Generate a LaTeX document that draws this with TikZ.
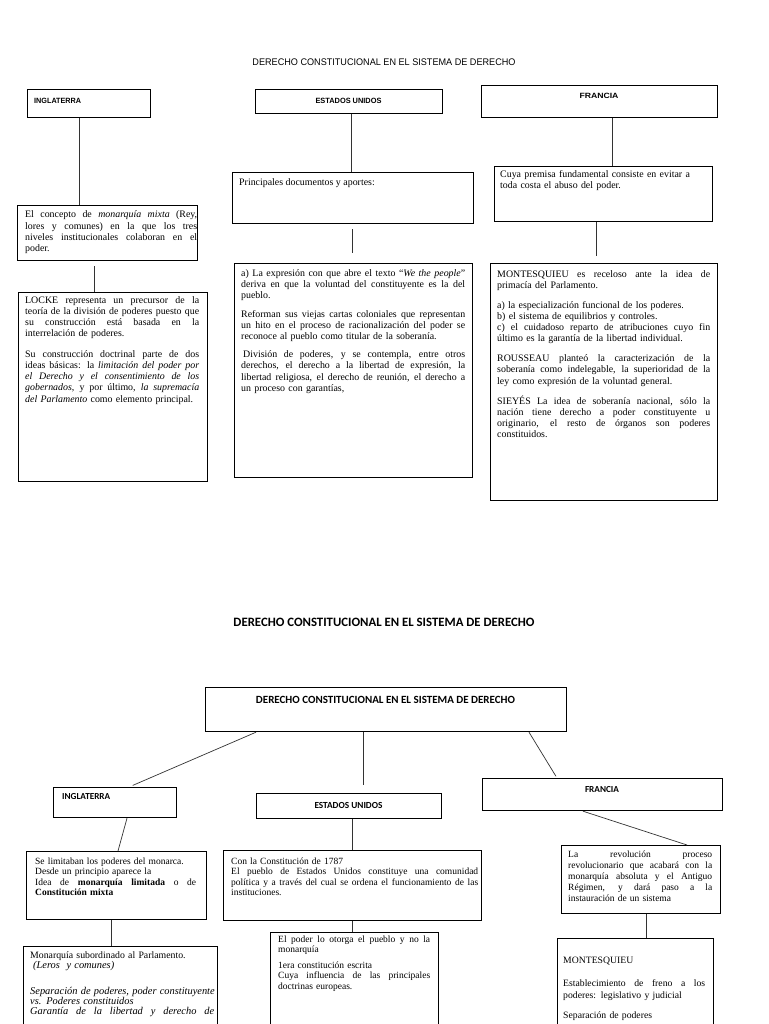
\documentclass[tikz,border=0pt]{standalone}
\usepackage{fontspec}
\usepackage{graphicx}
\setmainfont{Liberation Serif}
\newfontfamily\labfont[FakeStretch=0.82]{Liberation Sans}
\newfontfamily\calfont{Carlito}
\newcommand\jl[1]{\makebox[\hsize][s]{\spaceskip=0pt\xspaceskip=0pt\relax #1}}
\newcommand\bigit[1]{\mbox{\fontsize{10.4}{10.3}\selectfont\itshape #1}}
\newcommand\fitw[2]{\resizebox{#1}{!}{#2}}
\newcommand\fitwh[3]{\resizebox{#1}{#2}{#3}}
\hbadness=10000
\hfuzz=20pt
\begin{document}
\begin{tikzpicture}[x=1pt,y=-1pt,
  box/.style={draw=black, line width=1.2pt, inner sep=0pt, anchor=north west},
  link/.style={draw=black!80, line width=0.7pt},
  txt/.style={anchor=base west, inner sep=0pt, align=left, font=\fontsize{9.9}{11.3}\selectfont},
  txtb/.style={anchor=base west, inner sep=0pt, align=left, font=\fontsize{9.5}{10.3}\selectfont},
  lab/.style={inner sep=0pt, font=\labfont\bfseries},
  labb/.style={inner sep=0pt, font=\calfont\bfseries},
]
\useasboundingbox[fill=white] (0,0) rectangle (768,1024);

% ================= TOP DIAGRAM =================
\node[inner sep=0pt, font=\labfont] (titleT) at (384,62) {\fitwh{263pt}{6.7pt}{DERECHO CONSTITUCIONAL EN EL SISTEMA DE DERECHO}};

\node[box, minimum width=123, minimum height=28] (ingT) at (27,89) {};
\node[box, minimum width=187, minimum height=24] (euT) at (255,89) {};
\node[box, minimum width=236, minimum height=32] (frT) at (481,85) {};
\node[lab, anchor=west] (ingTl) at (34,101) {\fitwh{47pt}{5.3pt}{INGLATERRA}};
\node[lab] (euTl) at (348.5,101) {\fitwh{66pt}{5.3pt}{ESTADOS UNIDOS}};
\node[lab] (frTl) at (599,96) {\fitwh{39pt}{5.3pt}{FRANCIA}};

\node[box, minimum width=180, minimum height=55] (conc) at (17,205) {};
\node[box, minimum width=189, minimum height=189] (locke) at (18,292) {};
\node[box, minimum width=241, minimum height=51] (princ) at (232,172) {};
\node[box, minimum width=238, minimum height=214] (expr) at (234,263) {};
\node[box, minimum width=218, minimum height=55] (cuya) at (494,166) {};
\node[box, minimum width=227, minimum height=237] (montT) at (490,263) {};

\draw[link] (79,0 |- ingT.south) -- (79,0 |- conc.north);
\draw[link, shorten <=5pt] (94,0 |- conc.south) -- (94,0 |- locke.north);
\draw[link] (351,0 |- euT.south) -- (351,0 |- princ.north);
\draw[link, shorten <=5pt, shorten >=10pt] (352,0 |- princ.south) -- (352,0 |- expr.north);
\draw[link] (612,0 |- frT.south) -- (612,0 |- cuya.north);
\draw[link, shorten >=7pt] (596,0 |- cuya.south) -- (596,0 |- montT.north);

\node[txt, text width=172pt] (tconc) at (25,218) {\jl{El concepto de \textit{monarquía mixta} (Rey,}\\ \jl{lores y comunes) en la que los tres}\\ \jl{niveles institucionales colaboran en el}\\ poder.};

\node[txt, text width=174pt] (tlockeA) at (25,303) {\jl{LOCKE representa un precursor de la}\\ \jl{teoría de la división de poderes puesto que}\\ \jl{su construcción está basada en la}\\ interrelación de poderes.};
\node[txt, text width=174pt] (tlockeB) at (25,357) {\jl{Su construcción doctrinal parte de dos}\\ \jl{ideas básicas: la \textit{limitación del poder por}}\\ \jl{\textit{el Derecho y el consentimiento de los}}\\ \jl{\textit{gobernados}, y por último, \textit{la supremacía}}\\ \textit{del Parlamento} como elemento principal.};

\node[txt] (tprinc) at (239,185.5) {Principales documentos y aportes:};

\node[txt, text width=224pt] (texprA) at (241,276) {\jl{a) La expresión con que abre el texto “\textit{We the people}”}\\ \jl{deriva en que la voluntad del constituyente es la del}\\ pueblo.};
\node[txt, text width=224pt] (texprB) at (241,317) {\jl{Reforman sus viejas cartas coloniales que representan}\\ \jl{un hito en el proceso de racionalización del poder se}\\ reconoce al pueblo como titular de la soberanía.};
\node[txt, text width=224pt] (texprC) at (241,357.5) {\jl{\hspace{2pt}División de poderes, y se contempla, entre otros}\\ \jl{derechos, el derecho a la libertad de expresión, la}\\ \jl{libertad religiosa, el derecho de reunión, el derecho a}\\ un proceso con garantías,};

\node[txt, text width=205pt] (tcuya) at (500,177.5) {Cuya premisa fundamental consiste en evitar a\\ toda costa el abuso del poder.};

\node[txt, text width=213pt] (tmontA) at (497,277.5) {\jl{MONTESQUIEU es receloso ante la idea de}\\ primacía del Parlamento.};
\node[txt, text width=213pt] (tmontB) at (497,308) {a) la especialización funcional de los poderes.\\ b) el sistema de equilibrios y controles.\\ \jl{c) el cuidadoso reparto de atribuciones cuyo fin}\\ último es la garantía de la libertad individual.};
\node[txt, text width=213pt] (tmontC) at (497,361.5) {\jl{ROUSSEAU planteó la caracterización de la}\\ \jl{soberanía como indelegable, la superioridad de la}\\ ley como expresión de la voluntad general.};
\node[txt, text width=213pt] (tmontD) at (497,404) {\jl{SIEYÉS La idea de soberanía nacional, sólo la}\\ \jl{nación tiene derecho a poder constituyente u}\\ \jl{originario, el resto de órganos son poderes}\\ constituidos.};

% ================= BOTTOM DIAGRAM =================
\node[labb] (titleB) at (384,622) {\fitw{301pt}{DERECHO CONSTITUCIONAL EN EL SISTEMA DE DERECHO}};

\node[box, minimum width=361, minimum height=44] (mainB) at (205,687) {};
\node[labb] (mainBl) at (385.5,700) {\fitw{259pt}{DERECHO CONSTITUCIONAL EN EL SISTEMA DE DERECHO}};

\node[box, minimum width=123, minimum height=30] (ingB) at (53,787) {};
\node[box, minimum width=185, minimum height=25] (euB) at (256,793) {};
\node[box, minimum width=240, minimum height=32] (frB) at (482,778) {};
\node[labb, anchor=west] (ingBl) at (62,797) {\fitw{48pt}{INGLATERRA}};
\node[labb] (euBl) at (348.5,805) {\fitw{68pt}{ESTADOS UNIDOS}};
\node[labb] (frBl) at (602,789) {\fitw{34pt}{FRANCIA}};

\draw[link, shorten >=4pt] (256,0 |- mainB.south) -- (129,0 |- ingB.north);
\draw[link, shorten >=8pt] (363,0 |- mainB.south) -- (363,0 |- euB.north);
\draw[link, shorten >=2pt] (529,0 |- mainB.south) -- (557,0 |- frB.north);

\node[box, minimum width=180, minimum height=68] (limit) at (26,851) {};
\node[box, minimum width=258, minimum height=70] (const) at (223,850) {};
\node[box, minimum width=159, minimum height=68] (revol) at (561,845) {};
\node[box, minimum width=194, minimum height=84] (monarq) at (23,946) {};
\node[box, minimum width=168, minimum height=96] (poder) at (270,932) {};
\node[box, minimum width=156, minimum height=92] (montB) at (557,938) {};

\draw[link] (127,0 |- ingB.south) -- (118,0 |- limit.north);
\draw[link] (352,0 |- euB.south) -- (352,0 |- const.north);
\draw[link] (583,0 |- frB.south) -- (687,0 |- revol.north);
\draw[link] (111,0 |- limit.south) -- (111,0 |- monarq.north);
\draw[link] (352,0 |- const.south) -- (352,0 |- poder.north);
\draw[link] (646,0 |- revol.south) -- (646,0 |- montB.north);

\node[txtb, text width=161pt] (tlimit) at (35,864.5) {Se limitaban los poderes del monarca.\\ Desde un principio aparece la\\ \jl{Idea de \textbf{monarquía limitada} o de}\\ \textbf{Constitución mixta}};
\node[txtb, text width=247pt] (tconst) at (231,864.5) {Con la Constitución de 1787\\ \jl{El pueblo de Estados Unidos constituye una comunidad}\\ \jl{política y a través del cual se ordena el funcionamiento de las}\\ instituciones.};
\node[txtb, text width=144pt, font=\fontsize{9.5}{11}\selectfont] (trevol) at (568,857.5) {\jl{La revolución proceso}\\ \jl{revolucionario que acabará con la}\\ \jl{monarquía absoluta y el Antiguo}\\ \jl{Régimen, y dará paso a la}\\ instauración de un sistema};
\node[txtb, text width=184pt, font=\fontsize{9.8}{10.3}\selectfont] (tmonarq) at (30,958.5) {Monarquía subordinado al Parlamento.\\ \hspace{3pt}\bigit{(Leros\ \ y comunes)}\\[15pt] \bigit{Separación de poderes, poder constituyente}\\ \bigit{vs. Poderes constituidos}\\ \jl{\fontsize{10.4}{10.3}\selectfont\itshape Garantía de la libertad y derecho de}};
\node[txtb, text width=152pt] (tpoder) at (278,942) {\jl{El poder lo otorga el pueblo y no la}\\ monarquía\\[6pt] 1era constitución escrita\\ \jl{Cuya influencia de las principales}\\ doctrinas europeas.};
\node[txtb, text width=142pt, font=\fontsize{9.7}{12}\selectfont] (tmontB) at (563,963) {MONTESQUIEU\\[11pt] \jl{Establecimiento de freno a los}\\ poderes: legislativo y judicial\\[8pt] Separación de poderes};
\end{tikzpicture}
\end{document}
